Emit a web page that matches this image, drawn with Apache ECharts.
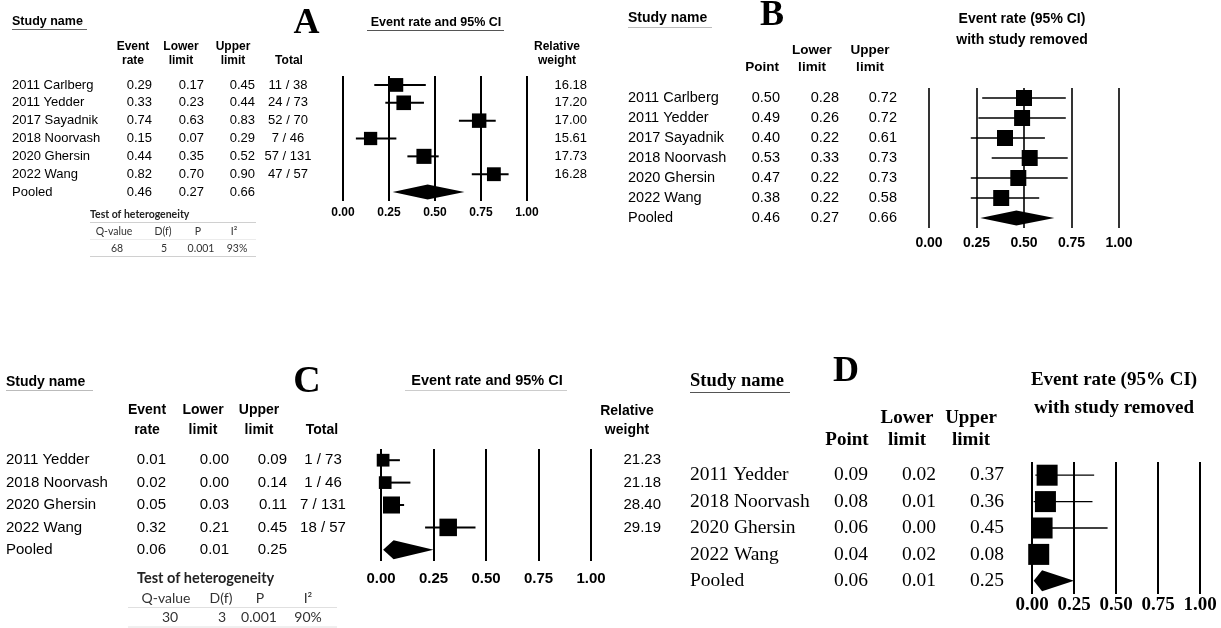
<!DOCTYPE html>
<html><head><meta charset="utf-8">
<script src="https://cdn.jsdelivr.net/npm/echarts@6/dist/echarts.min.js"></script>
<style>html,body{margin:0;padding:0;background:#fff}#c{width:1221px;height:628px}</style>
</head><body><div id="c"></div>
<script>
// ---------- DATA ----------
const studiesA = ['2011 Carlberg','2011 Yedder','2017 Sayadnik','2018 Noorvash','2020 Ghersin','2022 Wang','Pooled'];
const rateA  = [0.29,0.33,0.74,0.15,0.44,0.82,0.46];
const lowerA = [0.17,0.23,0.63,0.07,0.35,0.70,0.27];
const upperA = [0.45,0.44,0.83,0.29,0.52,0.90,0.66];
const totalA = ['11 / 38','24 / 73','52 / 70','7 / 46','57 / 131','47 / 57',''];
const weightA = [16.18,17.20,17.00,15.61,17.73,16.28];
const hetA = ['68','5','0.001','93%'];

const studiesB = ['2011 Carlberg','2011 Yedder','2017 Sayadnik','2018 Noorvash','2020 Ghersin','2022 Wang','Pooled'];
const pointB = [0.50,0.49,0.40,0.53,0.47,0.38,0.46];
const lowerB = [0.28,0.26,0.22,0.33,0.22,0.22,0.27];
const upperB = [0.72,0.72,0.61,0.73,0.73,0.58,0.66];

const studiesC = ['2011 Yedder','2018 Noorvash','2020 Ghersin','2022 Wang','Pooled'];
const rateC  = [0.01,0.02,0.05,0.32,0.06];
const lowerC = [0.00,0.00,0.03,0.21,0.01];
const upperC = [0.09,0.14,0.11,0.45,0.25];
const totalC = ['1 / 73','1 / 46','7 / 131','18 / 57',''];
const weightC = [21.23,21.18,28.40,29.19];
const hetC = ['30','3','0.001','90%'];

const studiesD = ['2011 Yedder','2018 Noorvash','2020 Ghersin','2022 Wang','Pooled'];
const pointD = [0.09,0.08,0.06,0.04,0.06];
const lowerD = [0.02,0.01,0.00,0.02,0.01];
const upperD = [0.37,0.36,0.45,0.08,0.25];

const tickLabels = ['0.00','0.25','0.50','0.75','1.00'];
const hetHeaders = ['Q-value','D(f)','P','I²'];
const fmt = v => v.toFixed(2);

// ---------- LAYOUT ----------
const SANS = '"Liberation Sans", Arial, sans-serif';
const SERIF = '"Liberation Serif", "Times New Roman", serif';
const panels = [
  {names:studiesA, pt:rateA, lo:lowerA, hi:upperA, w:weightA, left:343, width:184, top:76, height:125,
   sq:w=>w*0.85, lw:2, gridLw:2, dh:15, lab:{font:SANS,size:12,margin:6}},
  {names:studiesB, pt:pointB, lo:lowerB, hi:upperB, w:null, left:929, width:190, top:88, height:140,
   sq:()=>16, lw:1.5, gridLw:1.6, dh:15, lab:{font:SANS,size:14,margin:8}},
  {names:studiesC, pt:rateC, lo:lowerC, hi:upperC, w:weightC, left:381, width:210, top:449, height:112,
   sq:w=>w*0.6, lw:2, gridLw:2, dh:19, lab:{font:SANS,size:15,margin:10}},
  {names:studiesD, pt:pointD, lo:lowerD, hi:upperD, w:null, left:1032, width:168, top:462, height:132,
   sq:()=>21, lw:1.3, gridLw:2, dh:21, lab:{font:SERIF,size:19,margin:2}}
];

const chart = echarts.init(document.getElementById('c'), null, {renderer:'canvas'});

const grids=[], xAxes=[], yAxes=[], series=[];
panels.forEach((p,g)=>{
  grids.push({left:p.left, top:p.top, width:p.width, height:p.height, containLabel:false, outerBoundsMode:'none'});
  xAxes.push({type:'value', gridIndex:g, min:0, max:1, interval:0.25,
    axisLine:{show:false}, axisTick:{show:false},
    splitLine:{show:true, lineStyle:{color:'#000', width:p.gridLw}},
    axisLabel:{show:true, showMinLabel:true, showMaxLabel:true, margin:p.lab.margin, color:'#000',
      fontWeight:'bold', fontSize:p.lab.size, fontFamily:p.lab.font,
      formatter:v=>tickLabels[Math.round(v/0.25)]}});
  yAxes.push({type:'category', gridIndex:g, data:p.names, inverse:true, show:false});
  const n = p.names.length-1;
  const studyData = p.pt.slice(0,n).map((v,i)=>[v, p.lo[i], p.hi[i], i, p.w ? p.w[i] : 0]);
  series.push({type:'custom', xAxisIndex:g, yAxisIndex:g, clip:false, silent:true,
    encode:{x:[0,1,2], y:3}, data:studyData,
    renderItem:(params, api)=>{
      const row = api.value(3);
      const c = api.coord([api.value(0), row]);
      const l = api.coord([api.value(1), row]);
      const h = api.coord([api.value(2), row]);
      const s = p.sq(api.value(4));
      return {type:'group', children:[
        {type:'line', shape:{x1:l[0], y1:c[1], x2:h[0], y2:c[1]}, style:{stroke:'#000', lineWidth:p.lw}},
        {type:'rect', shape:{x:c[0]-s/2, y:c[1]-s/2, width:s, height:s}, style:{fill:'#000'}}
      ]};
    }});
  series.push({type:'custom', xAxisIndex:g, yAxisIndex:g, clip:false, silent:true,
    encode:{x:[0,1,2], y:3}, data:[[p.pt[n], p.lo[n], p.hi[n], n]],
    renderItem:(params, api)=>{
      const row = api.value(3);
      const c = api.coord([api.value(0), row]);
      const l = api.coord([api.value(1), row]);
      const h = api.coord([api.value(2), row]);
      const d = p.dh/2;
      return {type:'polygon', shape:{points:[[l[0],c[1]],[c[0],c[1]-d],[h[0],c[1]],[c[0],c[1]+d]]},
        style:{fill:'#000'}};
    }});
});

chart.setOption({animation:false, backgroundColor:'#fff', grid:grids, xAxis:xAxes, yAxis:yAxes, series:series});

// ---------- TEXT TABLES ----------
const G = [];
function T(text, x, y, font, align, color){
  G.push({type:'text', x:x, y:y, silent:true,
    style:{text:text, font:font, textAlign:align||'left', textVerticalAlign:'middle', fill:color||'#000'}});
}
function L(x1,y1,x2,y2,color,w){
  G.push({type:'line', silent:true, shape:{x1:x1,y1:y1,x2:x2,y2:y2}, style:{stroke:color, lineWidth:w||1}});
}
const rowY = (g,i)=>chart.convertToPixel({gridIndex:g},[0,i])[1];

// Panel A
{
  const H='bold 12px '+SANS, R='13px '+SANS;
  T('Study name',12,22,'bold 12.5px '+SANS); L(12,29.5,87,29.5,'#666',1);
  T('A',306.5,24,'bold 36px '+SERIF,'center');
  T('Event',133,47,H,'center'); T('rate',133,61,H,'center');
  T('Lower',181,47,H,'center'); T('limit',181,61,H,'center');
  T('Upper',233,47,H,'center'); T('limit',233,61,H,'center');
  T('Total',289,61,H,'center');
  T('Event rate and 95% CI',436,23,'bold 12.5px '+SANS,'center'); L(367,30.5,504,30.5,'#555',1);
  T('Relative',557,47,H,'center'); T('weight',557,61,H,'center');
  studiesA.forEach((s,i)=>{
    const y=rowY(0,i);
    T(s,12,y,R); T(fmt(rateA[i]),152,y,R,'right'); T(fmt(lowerA[i]),204,y,R,'right');
    T(fmt(upperA[i]),255,y,R,'right'); T(totalA[i],288,y,R,'center');
    if(i<weightA.length) T(weightA[i].toFixed(2),587,y,R,'right');
  });
  const HF='10.5px Lato, sans-serif';
  T('Test of heterogeneity',90,215,'bold 10.5px Lato, sans-serif','left','#222');
  L(90,222.5,256,222.5,'#d0d0d0',1);
  [114,163,198,234].forEach((x,k)=>T(hetHeaders[k],x,232,HF,'center','#333'));
  L(90,239.5,256,239.5,'#ececec',1);
  [117,164,201,237].forEach((x,k)=>T(hetA[k],x,249,HF,'center','#333'));
  L(90,256.5,256,256.5,'#d0d0d0',1);
}
// Panel B
{
  const H='bold 13.5px '+SANS, R='14.5px '+SANS;
  T('Study name',628,18,'bold 14px '+SANS); L(628,27.5,712,27.5,'#bbb',1);
  T('B',772,16,'bold 36px '+SERIF,'center');
  T('Point',762,67,H,'center');
  T('Lower',812,50,H,'center'); T('limit',812,67,H,'center');
  T('Upper',870,50,H,'center'); T('limit',870,67,H,'center');
  T('Event rate (95% CI)',1022,19,'bold 14px '+SANS,'center');
  T('with study removed',1022,40,'bold 14px '+SANS,'center');
  studiesB.forEach((s,i)=>{
    const y=rowY(1,i);
    T(s,628,y,R); T(fmt(pointB[i]),780,y,R,'right'); T(fmt(lowerB[i]),839,y,R,'right'); T(fmt(upperB[i]),897,y,R,'right');
  });
}
// Panel C
{
  const H='bold 14px '+SANS, R='15px '+SANS;
  T('Study name',6,382,'bold 14px '+SANS); L(6,390.5,93,390.5,'#bbb',1);
  T('C',307,382,'bold 38px '+SERIF,'center');
  T('Event',147,410,H,'center'); T('rate',147,430,H,'center');
  T('Lower',203,410,H,'center'); T('limit',203,430,H,'center');
  T('Upper',259,410,H,'center'); T('limit',259,430,H,'center');
  T('Total',322,430,H,'center');
  T('Event rate and 95% CI',487,381,'bold 14.5px '+SANS,'center'); L(405,390.5,567,390.5,'#ccc',1);
  T('Relative',627,411,H,'center'); T('weight',627,430,H,'center');
  studiesC.forEach((s,i)=>{
    const y=rowY(2,i);
    T(s,6,y,R); T(fmt(rateC[i]),166,y,R,'right'); T(fmt(lowerC[i]),229,y,R,'right');
    T(fmt(upperC[i]),287,y,R,'right'); T(totalC[i],323,y,R,'center');
    if(i<weightC.length) T(weightC[i].toFixed(2),661,y,R,'right');
  });
  const HF='14px Lato, sans-serif';
  T('Test of heterogeneity',137,578,'bold 14.5px Lato, sans-serif','left','#222');
  [166,221,260,308].forEach((x,k)=>T(hetHeaders[k],x,598,HF,'center','#333'));
  L(128,607.5,337,607.5,'#e0e0e0',1);
  [170,222,259,308].forEach((x,k)=>T(hetC[k],x,617,HF,'center','#333'));
  L(128,627,337,627,'#e0e0e0',1);
}
// Panel D
{
  const H='bold 19px '+SERIF, R='19.5px '+SERIF;
  T('Study name',690,381,'bold 18.5px '+SERIF); L(690,392.5,790,392.5,'#555',1);
  T('D',846,372,'bold 36px '+SERIF,'center');
  T('Point',847,440,H,'center');
  T('Lower',907,418,H,'center'); T('limit',907,440,H,'center');
  T('Upper',971,418,H,'center'); T('limit',971,440,H,'center');
  T('Event rate (95% CI)',1114,380,'bold 19px '+SERIF,'center');
  T('with study removed',1114,408,'bold 19px '+SERIF,'center');
  studiesD.forEach((s,i)=>{
    const y=rowY(3,i);
    T(s,690,y,R); T(fmt(pointD[i]),868,y,R,'right'); T(fmt(lowerD[i]),936,y,R,'right'); T(fmt(upperD[i]),1004,y,R,'right');
  });
}
chart.setOption({graphic:G});
</script></body></html>
